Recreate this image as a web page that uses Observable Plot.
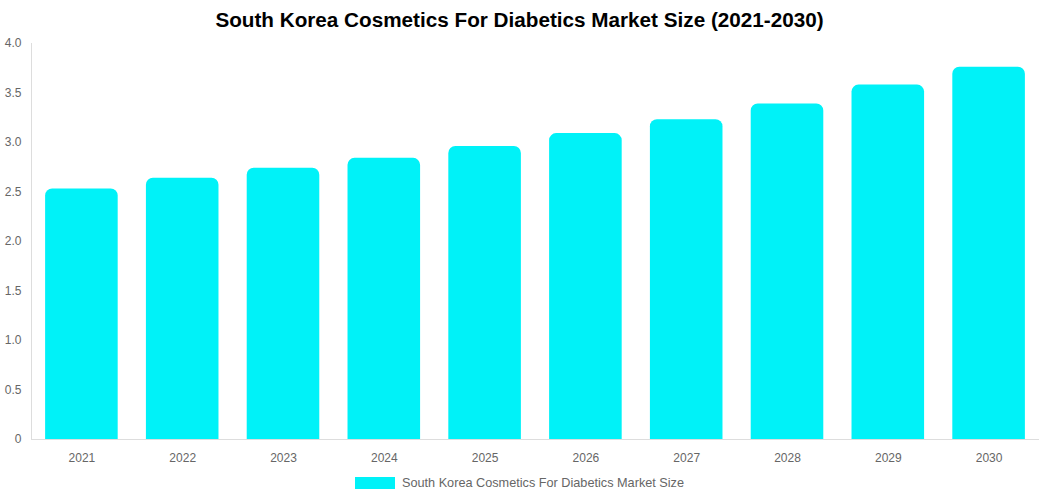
<!DOCTYPE html>
<html>
<head>
<meta charset="utf-8">
<script src="https://cdn.jsdelivr.net/npm/d3@7"></script>
<script src="https://cdn.jsdelivr.net/npm/@observablehq/plot@0.6"></script>
<style>
  html, body { margin: 0; padding: 0; background: #fff; }
  body { width: 1039px; height: 500px; overflow: hidden; font-family: "Liberation Sans", Arial, sans-serif; }
  #title { position: absolute; left: 0; top: 8px; width: 1039px; text-align: center; font-size: 20.7px; font-weight: bold; color: #000; line-height: 24px; }
  #chart { position: absolute; left: 0; top: 35px; }
  #legend { position: absolute; left: 0; top: 476px; width: 1039px; display: flex; justify-content: center; align-items: center; font-size: 12.7px; color: #666; }
  #legend .sw { width: 40px; height: 12px; background: #00f2f8; margin-right: 7px; }
</style>
</head>
<body>
<div id="title">South Korea Cosmetics For Diabetics Market Size (2021-2030)</div>
<div id="chart"></div>
<div id="legend"><span class="sw"></span><span>South Korea Cosmetics For Diabetics Market Size</span></div>
<script>
const years = ["2021","2022","2023","2024","2025","2026","2027","2028","2029","2030"];
const values = [2.53, 2.64, 2.74, 2.84, 2.96, 3.09, 3.23, 3.39, 3.58, 3.76];
const yTicks = [0, 0.5, 1.0, 1.5, 2.0, 2.5, 3.0, 3.5, 4.0];

const data = years.map((y, i) => ({year: y, value: values[i]}));

const chart = Plot.plot({
  width: 1039,
  height: 435,
  marginTop: 8,
  marginBottom: 31,
  marginLeft: 31,
  marginRight: 0,
  style: {fontFamily: "Liberation Sans, Arial, sans-serif", fontSize: "12px", color: "#666", background: "#fff"},
  x: {domain: years, paddingInner: 0.28, paddingOuter: 0.14, round: false, label: null, tickSize: 0, tickPadding: 14},
  y: {domain: [0, 4], ticks: yTicks, label: null, tickSize: 0, tickPadding: 10,
      tickFormat: d => d === 0 ? "0" : d.toFixed(1)},
  marks: [
    Plot.barY(data, {x: "year", y: "value", fill: "#00f2f8", ry1: 7}),
    Plot.ruleY([0], {stroke: "#ddd"}),
    Plot.frame({anchor: "left", stroke: "#ddd"})
  ]
});
document.getElementById("chart").appendChild(chart);
</script>
</body>
</html>
